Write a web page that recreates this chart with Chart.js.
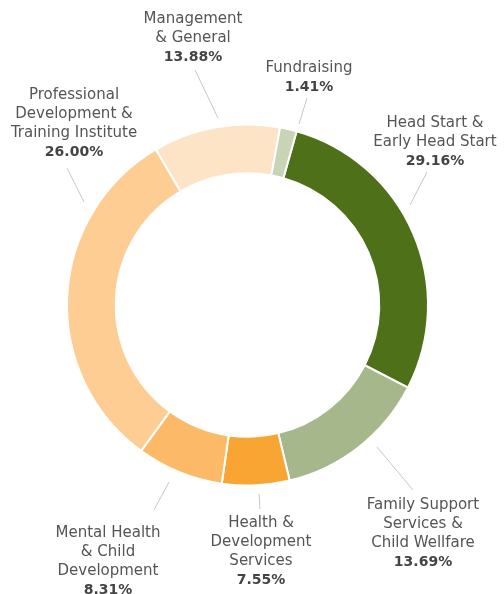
<!DOCTYPE html>
<html>
<head>
<meta charset="utf-8">
<script src="https://cdn.jsdelivr.net/npm/chart.js@4"></script>
<style>
  html, body { margin: 0; padding: 0; background: #fff; }
  canvas { display: block; }
</style>
</head>
<body>
<canvas id="chart" width="504" height="594"></canvas>
<script>
// categories, clockwise from the top
const categories = [
  ["Head Start &", "Early Head Start"],
  ["Family Support", "Services &", "Child Wellfare"],
  ["Health &", "Development", "Services"],
  ["Mental Health", "& Child", "Development"],
  ["Professional", "Development &", "Training Institute"],
  ["Management", "& General"],
  ["Fundraising"]
];
// percentages printed on the labels
const shares = [29.16, 13.69, 7.55, 8.31, 26.00, 13.88, 1.41];
// slice sizes as actually drawn in the picture (they don't quite follow the labels)
const sliceShares = [28.17, 13.69, 6.03, 7.75, 31.5, 11.36, 1.5];
const colors = ["#4d7018", "#a6b78b", "#f9a533", "#fcb967", "#fecd93", "#fee4c6", "#c8d4b5"];

// label text position and leader line, offsets from the donut center
const labelLayout = [
  { x: 187.5, y: -182, from: [162.5, -100], to: [179.5, -133] },
  { x: 175.5, y: 200, from: [129.5, 142], to: [165.5, 185] },
  { x: 13.5, y: 218, from: [11.5, 189], to: [12.5, 204] },
  { x: -139.5, y: 228, from: [-78.5, 177], to: [-93.5, 205] },
  { x: -173.5, y: -210, from: [-163.5, -103], to: [-180.5, -137] },
  { x: -54.5, y: -286, from: [-29.5, -187], to: [-52.5, -235] },
  { x: 61.5, y: -237, from: [51.5, -181], to: [59.5, -207] }
];

const outsideLabels = {
  id: "outsideLabels",
  afterDraw(chart) {
    const ctx = chart.ctx;
    const arcs = chart.getDatasetMeta(0).data;
    const cx = arcs[0].x, cy = arcs[0].y;
    ctx.save();
    ctx.textAlign = "center";
    ctx.textBaseline = "middle";
    arcs.forEach((arc, i) => {
      const l = labelLayout[i];
      ctx.strokeStyle = "#c6c6c6";
      ctx.lineWidth = 1;
      ctx.beginPath();
      ctx.moveTo(cx + l.from[0], cy + l.from[1]);
      ctx.lineTo(cx + l.to[0], cy + l.to[1]);
      ctx.stroke();

      const lines = categories[i];
      ctx.fillStyle = "#555";
      ctx.font = "15px 'DejaVu Sans'";
      lines.forEach((t, k) => ctx.fillText(t, cx + l.x, cy + l.y + k * 19));
      ctx.fillStyle = "#444";
      ctx.font = "bold 14px 'DejaVu Sans'";
      ctx.fillText(shares[i].toFixed(2) + "%", cx + l.x, cy + l.y + lines.length * 19);
    });
    ctx.restore();
  }
};

new Chart(document.getElementById("chart"), {
  type: "doughnut",
  data: {
    labels: categories.map((c) => c.join(" ")),
    datasets: [{
      data: sliceShares,
      backgroundColor: colors,
      borderColor: "#fff",
      borderWidth: 2
    }]
  },
  options: {
    responsive: false,
    animation: false,
    rotation: 15.8,
    cutout: "73%",
    layout: { padding: { left: 66, right: 75, top: 123.5, bottom: 107.5 } },
    plugins: {
      legend: { display: false },
      tooltip: { enabled: false }
    }
  },
  plugins: [outsideLabels]
});
</script>
</body>
</html>
